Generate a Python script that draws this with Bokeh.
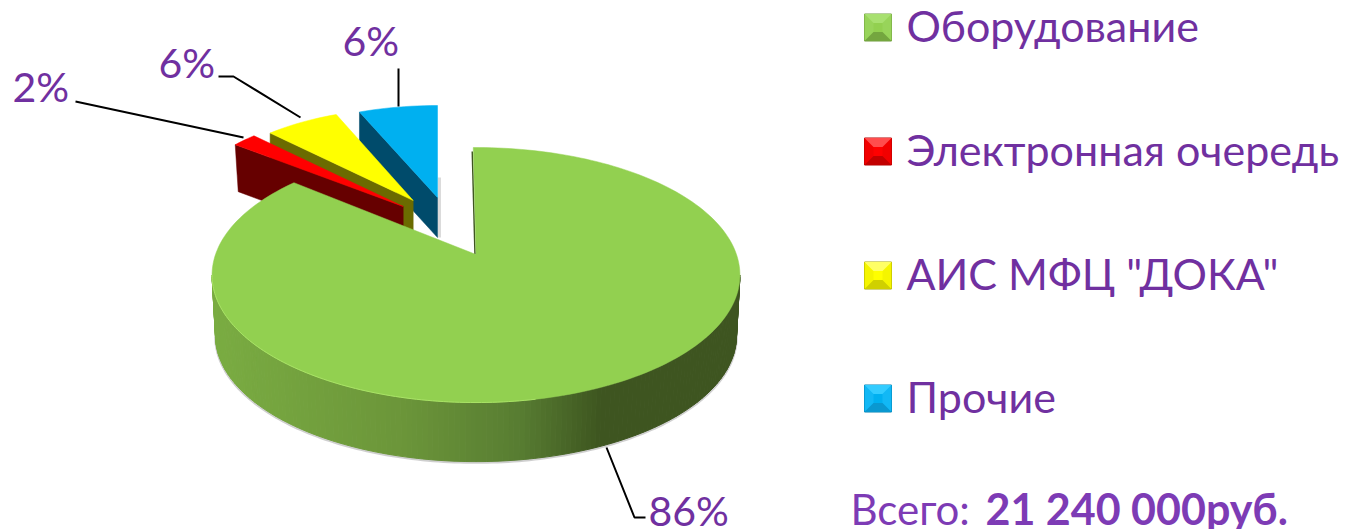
import math
from bokeh.plotting import figure
from bokeh.models import ColumnDataSource
from bokeh.core.properties import value
from bokeh.embed import file_html
from bokeh.resources import INLINE

# ---- data
categories = ["Оборудование", "Электронная очередь", "АИС МФЦ \"ДОКА\"", "Прочие"]
shares = [86, 2, 6, 6]
share_labels = ["86%", "2%", "6%", "6%"]
total_label = "Всего:"
total_value = "21 240 000руб."

# ---- style
top_colors = ["#92d050", "#ff0000", "#ffff00", "#00b0f0"]
side_colors = ["#5f8a35", "#660000", "#6b6b00", "#004b6b"]
bevel_light = ["#a8e070", "#ff4d4d", "#ffff66", "#33ccff"]
bevel_side = ["#98d45a", "#f20000", "#f5f500", "#12b8f5"]
bevel_dark = ["#74a63f", "#c20000", "#d0d000", "#0a98d0"]
bevel_edge = ["#6f9c3c", "#b00000", "#a8a800", "#0080b0"]
PURPLE = "#7030a0"
PURPLE_TOTAL = "#7d3bb5"
FONT = "Lato"
W, H = 1345, 529

# ---- main disc projection (perspective pie)
CX, CY, A, B, PERS = 475.5, 254.0, 260.5, 124.2, 0.161
DEPTH_Y, DEPTH_S = 61.0, 0.987
# exploded slices: apex x, apex y, radius x, radius y, depth
EXPL = {1: (402.7, 206.0, 218, 97, 47), 2: (412.7, 200.0, 209, 92.5, 45), 3: (437.0, 197.0, 212, 92, 40)}
ROT = -0.7


def proj(deg, s=1.0, dy=0.0):
    u, v = math.sin(math.radians(deg)), math.cos(math.radians(deg))
    k = 1 + PERS * v
    return CX + s * A * u / k, CY + dy - s * B * v / k


def arc(d0, d1, n):
    return [d0 + (d1 - d0) * i / n for i in range(n + 1)]


p = figure(width=W, height=H, x_range=(0, W), y_range=(H, 0), output_backend="svg",
           toolbar_location=None, min_border=0, outline_line_color=None, background_fill_color="white",
           border_fill_color="white")
p.axis.visible = False
p.grid.visible = False

# angle limits from the data
cum, edges = 0, []
for s in shares:
    edges.append((cum * 3.6, (cum + s) * 3.6))
    cum += s

# exploded slices, back to front
for i in (3, 2, 1):
    d0, d1 = edges[i]
    ax, ay, ra, rb, dp = EXPL[i]
    pts = [(ax + ra * math.sin(math.radians(d)), ay - rb * math.cos(math.radians(d))) for d in arc(d0, d1, 12)]
    corner = pts[0]
    if i == 3:
        # faint shadow right of the blue slice
        p.line([ax + 2, ax + 2], [ay - 20, ay + dp], line_color="#999999", line_alpha=0.35, line_width=3)
    p.patch([corner[0], ax, ax, corner[0] + (3 if i == 1 else 0)], [corner[1], ay, ay + dp, corner[1] + dp],
            fill_color=side_colors[i], line_color=side_colors[i], line_width=0.5)
    p.patch([ax] + [q[0] for q in pts], [ay] + [q[1] for q in pts], fill_color=top_colors[i],
            line_color=top_colors[i], line_width=0.5)

# main wall: shadow, shaded quads
wall_start = math.degrees(math.acos(-PERS))
sweep = arc(wall_start, 360 - wall_start, 160)
bot = [proj(d, DEPTH_S, DEPTH_Y) for d in sweep]
p.line([q[0] for q in bot], [q[1] + 1 for q in bot], line_color="#888888", line_alpha=0.4, line_width=2.5)

wall_stops = [(216, (122, 172, 66)), (400, (108, 150, 58)), (520, (88, 125, 50)), (600, (62, 86, 32)), (740, (62, 85, 32))]


def wall_color(x):
    for (x0, c0), (x1, c1) in zip(wall_stops, wall_stops[1:]):
        if x <= x1:
            t = max(0.0, (x - x0) / (x1 - x0))
            return "#%02x%02x%02x" % tuple(int(c0[j] + (c1[j] - c0[j]) * t) for j in range(3))
    return "#3e5520"


xs_w, ys_w, cols = [], [], []
for d0, d1 in zip(sweep, sweep[1:]):
    a0, a1, b0, b1 = proj(d0), proj(d1), proj(d0, DEPTH_S, DEPTH_Y), proj(d1, DEPTH_S, DEPTH_Y)
    xs_w.append([a0[0], a1[0], b1[0], b0[0]])
    ys_w.append([a0[1], a1[1], b1[1], b0[1]])
    cols.append(wall_color((a0[0] + a1[0]) / 2))
p.patches("x", "y", source=ColumnDataSource(dict(x=xs_w, y=ys_w, c=cols)), fill_color="c", line_color="c", line_width=1)

# main top
d0, d1 = edges[0]
rim = [proj(d) for d in arc(d0 + ROT, d1, 200)]
# inner wall sliver at the gap
p.line([rim[0][0] - 1, CX - 1], [rim[0][1] + 4, CY], line_color="#3e5520", line_width=1.5)
p.patch([CX] + [q[0] for q in rim], [CY] + [q[1] for q in rim], fill_color=top_colors[0], line_color=top_colors[0], line_width=0.5)
near = [proj(d) for d in sweep]
near = [q for q in near if q[0] < 540]
p.line([q[0] for q in near], [q[1] for q in near], line_color="#a9e366", line_width=1)

# leader lines
leaders = [
    ([606, 634, 645], [447, 517, 517]),
    ([75, 243], [101, 137]),
    ([218, 233, 300], [76, 76, 117]),
    ([398, 398], [68, 106]),
]
for xs, ys in leaders:
    p.line(xs, ys, line_color="#000000", line_width=2)

# share labels
label_pos = [(648, 510), (12, 86), (158, 62), (342, 40)]
for txt, (lx, ly) in zip(share_labels, label_pos):
    p.text([lx], [ly], text=[txt], text_font=value(FONT), text_font_size="41px", text_color=PURPLE,
           text_baseline="middle", text_align="left")

# legend
leg_y = [27, 151, 275, 398]
LX, LS = 864, 27
for i, cat in enumerate(categories):
    x0, y0 = LX, leg_y[i] - LS / 2
    x1, y1 = x0 + LS, y0 + LS
    inset = 9
    ix0, iy0, ix1, iy1 = x0 + inset, y0 + inset, x1 - inset, y1 - inset
    p.patch([x0, x1, x1, x0], [y0, y0, y1, y1], fill_color=top_colors[i], line_color=bevel_edge[i], line_width=1)
    p.patch([x0, ix0, ix0, x0], [y0, iy0, iy1, y1], fill_color=bevel_side[i], line_color=None)
    p.patch([x1, ix1, ix1, x1], [y0, iy0, iy1, y1], fill_color=bevel_side[i], line_color=None)
    p.patch([x0, x1, ix1, ix0], [y0, y0, iy0, iy0], fill_color=bevel_light[i], line_color=None)
    p.patch([x0, x1, ix1, ix0], [y1, y1, iy1, iy1], fill_color=bevel_dark[i], line_color=None)
    p.text([906], [leg_y[i] - 2], text=[cat], text_font=value(FONT), text_font_size="43px", text_color=PURPLE,
           text_baseline="middle", text_align="left")

# total
p.text([850], [508], text=[total_label], text_font=value(FONT), text_font_size="42px", text_color=PURPLE_TOTAL,
       text_baseline="middle", text_align="left")
p.text([985], [508], text=[total_value], text_font=value(FONT), text_font_size="43px", text_font_style="bold",
       text_color=PURPLE_TOTAL, text_baseline="middle", text_align="left")

open("out.html", "w").write(file_html(p, INLINE))
